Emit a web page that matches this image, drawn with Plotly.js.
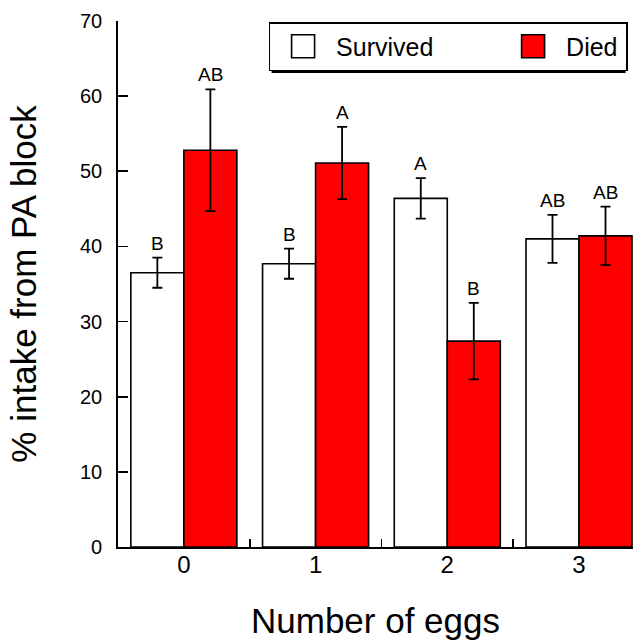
<!DOCTYPE html>
<html><head><meta charset="utf-8">
<script src="https://cdn.plot.ly/plotly-3.0.1.min.js"></script>
<style>html,body{margin:0;padding:0;background:#fff}#chart{width:642px;height:640px}</style>
</head><body><div id="chart"></div>
<script>
const categories = [0, 1, 2, 3];
const tickLabels = ['0', '1', '2', '3'];
const seriesNames = ['Survived', 'Died'];
const survivedMean = [36.5, 37.7, 46.4, 41.0];
const survivedErr = [2.0, 2.0, 2.7, 3.2];
const diedMean = [52.8, 51.1, 27.4, 41.4];
const diedErr = [8.1, 4.8, 5.1, 3.9];
const survivedLetters = ['B', 'B', 'A', 'AB'];
const diedLetters = ['AB', 'A', 'B', 'AB'];
const yTicks = [0, 10, 20, 30, 40, 50, 60, 70];
const groupBoundaries = [0.5, 1.5, 2.5];

const FONT = 'Liberation Sans, Arial, Helvetica, sans-serif';
const BARGAP = 0.195;
const off = (1 - BARGAP) / 4;

const errStyle = {type: 'data', visible: true, color: '#000', thickness: 1.8, width: 5};

const traces = [
  {type: 'bar', name: seriesNames[0], x: categories, y: survivedMean,
   error_y: Object.assign({array: survivedErr}, errStyle),
   marker: {color: '#ffffff', line: {color: '#000', width: 1.6}}, legendwidth: 159},
  {type: 'bar', name: seriesNames[1], x: categories, y: diedMean,
   error_y: Object.assign({array: diedErr}, errStyle),
   marker: {color: '#ff0000', line: {color: '#000', width: 1.6}}, legendwidth: 55}
];

const annotations = [];
categories.forEach((c, i) => {
  annotations.push({x: c - off, y: survivedMean[i] + survivedErr[i], text: survivedLetters[i],
    showarrow: false, yanchor: 'bottom', yshift: 2, font: {family: FONT, size: 19, color: '#000'}});
  annotations.push({x: c + off, y: diedMean[i] + diedErr[i], text: diedLetters[i],
    showarrow: false, yanchor: 'bottom', yshift: 2, font: {family: FONT, size: 19, color: '#000'}});
});

// plot area: 515 x 526 px
const LX = 0.2924, LY = 1 - 1 / 526;
const legW = 354, legH = 48;

const layout = {
  width: 642, height: 640,
  margin: {l: 118, r: 9, t: 21, b: 93},
  paper_bgcolor: '#fff', plot_bgcolor: '#fff',
  font: {family: FONT, color: '#000'},
  barmode: 'group', bargap: BARGAP, bargroupgap: 0,
  showlegend: true,
  legend: {orientation: 'h', x: LX, xanchor: 'left', y: LY, yanchor: 'top',
    bgcolor: '#fff', bordercolor: '#000', borderwidth: 1.5,
    font: {family: FONT, size: 25, color: '#000'}, itemwidth: 56, entrywidthmode: 'pixels'},
  xaxis: {range: [-0.5, 3.41], tickvals: categories, ticktext: tickLabels,
    ticks: '', showgrid: false, zeroline: false, showline: true, linecolor: '#000', linewidth: 1.8,
    tickfont: {family: FONT, size: 24}, ticklabelstandoff: -5,
    minor: {tickvals: groupBoundaries, ticks: 'inside', ticklen: 8, tickwidth: 1.6, tickcolor: '#000', showgrid: false},
    title: {text: 'Number of eggs', font: {family: FONT, size: 35}, standoff: 32}},
  yaxis: {range: [0, 70], tickvals: yTicks, ticks: 'inside', ticklen: 10, tickwidth: 1.6, tickcolor: '#000',
    showgrid: false, zeroline: false, showline: true, linecolor: '#000', linewidth: 1.8,
    tickfont: {family: FONT, size: 20}, ticklabelstandoff: 10,
    title: {text: '% intake from PA block', font: {family: FONT, size: 35}, standoff: 33}},
  annotations: annotations,
  shapes: [{type: 'rect', xref: 'paper', yref: 'paper',
    x0: LX + 3 / 515, x1: LX + (legW + 3) / 515,
    y0: LY - 3 / 526, y1: LY - (legH + 3) / 526,
    fillcolor: '#000', line: {width: 0}, layer: 'above'}]
};

Plotly.newPlot('chart', traces, layout, {displayModeBar: false, staticPlot: true}).then(gd => {
  gd.querySelectorAll('.legend .legendpoints path').forEach(p => p.setAttribute('d', 'M11.5,11.5H-11.5V-11.5H11.5Z'));
});
</script>
</body></html>
